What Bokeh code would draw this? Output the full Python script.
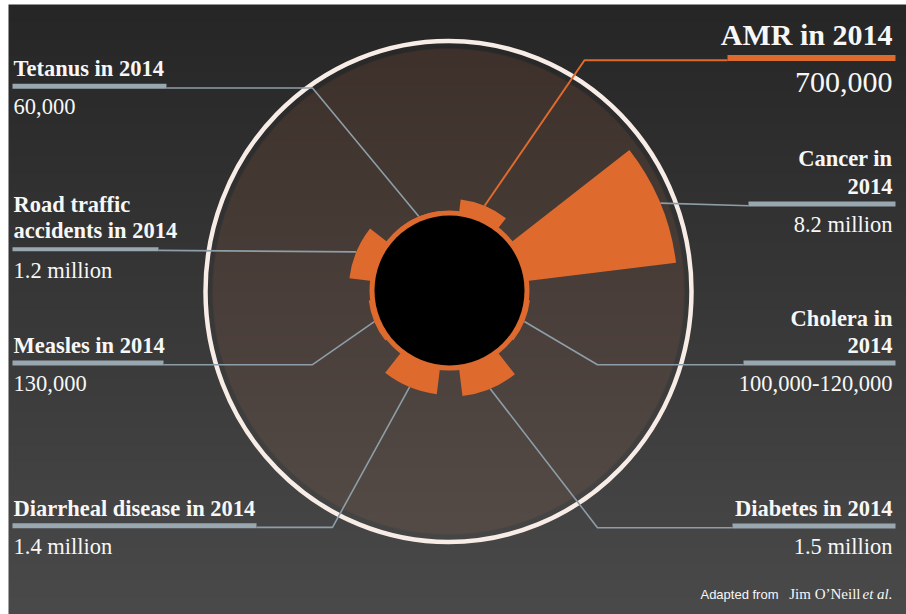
import numpy as np
from bokeh.plotting import figure
from bokeh.models import Range1d
from bokeh.core.properties import value
from bokeh.embed import file_html
from bokeh.resources import INLINE

W, H = 906, 614

# ---------------- data ----------------
causes = ["Cancer", "AMR", "Tetanus", "Road traffic accidents", "Measles",
          "Diarrheal disease", "Diabetes", "Cholera"]
deaths_millions = [8.2, 0.7, 0.06, 1.2, 0.13, 1.4, 1.5, 0.11]
title_lines = [["Cancer in", "2014"], ["AMR in 2014"], ["Tetanus in 2014"],
               ["Road traffic", "accidents in 2014"], ["Measles in 2014"],
               ["Diarrheal disease in 2014"], ["Diabetes in 2014"],
               ["Cholera in", "2014"]]
value_labels = ["8.2 million", "700,000", "60,000", "1.2 million", "130,000",
                "1.4 million", "1.5 million", "100,000-120,000"]
credit_parts = ["Adapted from", "Jim O\u2019Neill", "et al."]

# ---------------- layout (pixel coords, origin top-left) ----------------
side = ["R", "R", "L", "L", "L", "L", "R", "R"]
title_base = [[167, 195], [45], [77], [212.5, 239], [353.5], [517], [517], [327, 354]]
value_base = [233, 93.5, 114.5, 278.5, 392, 555, 555, 392]
bar_top = [201, 54.5, 83.3, 246.7, 360, 522.7, 523, 360]
bar_bot = [206, 60.5, 88.3, 250.7, 365, 527.7, 528, 365]
bar_x = [(748, 895), (727, 895), (12, 166), (12, 158), (12, 163), (12, 256),
         (732, 895), (743, 895)]
elbow_x = [None, 584, 312, None, 312, 332, 597, 597]

def Y(py):
    return H - py

def TY(py, fs):
    # baseline position (pixel) -> data y, compensating text box offset
    return H - (py - 0.38 * fs)

ORANGE = "#df6a2d"
GREY_BAR = "#98a7b0"
GREY_LINE = "#8d9ea8"
TXT = "#f7f7f7"

CX, CY = 449, Y(290)
R_BLACK = 75
R_RING = 80
R_BASE = 79
PX_PER_M = 18.2
HALF_W = np.deg2rad(15.5)

p = figure(width=W, height=H, x_range=Range1d(0, W), y_range=Range1d(0, H),
           output_backend="svg", toolbar_location=None,
           x_axis_type=None, y_axis_type=None, min_border=0)
p.outline_line_color = None
p.background_fill_color = "white"
p.border_fill_color = "white"
p.grid.visible = False

# ---------------- background gradient ----------------
bg_h = 610
rows = np.arange(bg_h)
py = H - (rows + 0.5)
t = (py - 4) / 610.0
top_c = np.array([38, 38, 38]); bot_c = np.array([74, 74, 74])
cols = (top_c[None, :] + (bot_c - top_c)[None, :] * t[:, None]).astype(np.uint8)
bg = np.zeros((bg_h, 1, 4), dtype=np.uint8)
bg[:, 0, :3] = cols
bg[:, 0, 3] = 255
p.image_rgba(image=[bg.view(np.uint32).reshape(bg_h, 1)], x=8, y=0, dw=W - 8, dh=bg_h)

# ---------------- brown disc with gradient ----------------
ecx, ecy = 448, Y(291)
ea, eb = 236, 243
x0, y0 = ecx - ea - 2, ecy - eb - 2
dw, dh = 2 * ea + 4, 2 * eb + 4
jj, ii = np.meshgrid(np.arange(dw), np.arange(dh))
u = x0 + jj + 0.5
v = y0 + ii + 0.5
d = np.sqrt(((u - ecx) / ea) ** 2 + ((v - ecy) / eb) ** 2)
alpha = np.clip((1 - d) * ea + 0.5, 0, 1)
pyy = H - v
tt = np.clip((pyy - 48) / (534 - 48), 0, 1)
c_top = np.array([62, 49, 43]); c_bot = np.array([84, 75, 71])
disc = np.zeros((dh, dw, 4), dtype=np.uint8)
for k in range(3):
    disc[:, :, k] = (c_top[k] + (c_bot[k] - c_top[k]) * tt).astype(np.uint8)
disc[:, :, 3] = (alpha * 255).astype(np.uint8)
p.image_rgba(image=[disc.view(np.uint32).reshape(dh, dw)], x=x0, y=y0, dw=dw, dh=dh)

# outer white ring
p.ellipse(x=[448], y=[Y(291)], width=[486], height=[501], fill_alpha=0,
          line_color="#f8ece6", line_width=4.5)

# ---------------- radial geometry from data ----------------
n = len(causes)
centers = np.deg2rad(22.5 + 45 * np.arange(n))
r_out = R_BASE + PX_PER_M * np.array(deaths_millions)
r_end = np.maximum(r_out, R_RING)
end_x = CX + r_end * np.cos(centers)
end_y = CY + r_end * np.sin(centers)

# ---------------- leader lines ----------------
xs_g, ys_g, xs_o, ys_o = [], [], [], []
for i in range(n):
    ly = Y(bar_bot[i] - 0.8)
    sx = bar_x[i][1] if side[i] == "L" else bar_x[i][0]
    lx = [sx]; lyy = [ly]
    if elbow_x[i] is not None:
        lx.append(elbow_x[i]); lyy.append(ly)
    lx.append(end_x[i]); lyy.append(end_y[i])
    if causes[i] == "AMR":
        xs_o.append(lx); ys_o.append(lyy)
    else:
        xs_g.append(lx); ys_g.append(lyy)
p.multi_line(xs=xs_g, ys=ys_g, line_color=GREY_LINE, line_width=1.6)
p.multi_line(xs=xs_o, ys=ys_o, line_color=ORANGE, line_width=2)

# ---------------- wedges ----------------
p.annular_wedge(x=CX, y=CY, inner_radius=70, outer_radius=r_out,
                start_angle=centers - HALF_W, end_angle=centers + HALF_W,
                fill_color=ORANGE, line_color=None)
p.annular_wedge(x=CX, y=CY, inner_radius=70, outer_radius=R_RING,
                start_angle=0, end_angle=2 * np.pi, fill_color=ORANGE, line_color=None)
p.circle(x=[CX], y=[CY], radius=R_BLACK, fill_color="black", line_color=None)

# ---------------- label bars ----------------
for i in range(n):
    col = ORANGE if causes[i] == "AMR" else GREY_BAR
    p.quad(left=[bar_x[i][0]], right=[bar_x[i][1]], top=[Y(bar_top[i])],
           bottom=[Y(bar_bot[i])], fill_color=col, line_color=None)

# ---------------- texts ----------------
for i in range(n):
    big = causes[i] == "AMR"
    fsz = 30 if big else 22.5
    fs = f"{fsz}px"
    tx = 13 if side[i] == "L" else 892
    al = "left" if side[i] == "L" else "right"
    p.text(x=[tx] * len(title_lines[i]), y=[TY(b, fsz) for b in title_base[i]],
           text=title_lines[i], text_font=value("Liberation Serif"),
           text_font_style="bold", text_font_size=fs, text_color=TXT,
           text_align=al, text_baseline="alphabetic")
    p.text(x=[tx], y=[TY(value_base[i], fsz)], text=[value_labels[i]],
           text_font=value("Liberation Serif"), text_font_style="normal",
           text_font_size=fs, text_color=TXT, text_align=al,
           text_baseline="alphabetic")

# credit
p.text(x=[778], y=[TY(599, 13)], text=[credit_parts[0]], text_font=value("Liberation Sans"),
       text_font_size="13px", text_color=TXT, text_align="right", text_baseline="alphabetic")
p.text(x=[860], y=[TY(599, 15)], text=[credit_parts[1]], text_font=value("Liberation Serif"),
       text_font_size="15px", text_color=TXT, text_align="right", text_baseline="alphabetic")
p.text(x=[892], y=[TY(599, 15)], text=[credit_parts[2]], text_font=value("Liberation Serif"),
       text_font_style="italic", text_font_size="15px", text_color=TXT,
       text_align="right", text_baseline="alphabetic")

open("out.html", "w").write(file_html(p, INLINE))
